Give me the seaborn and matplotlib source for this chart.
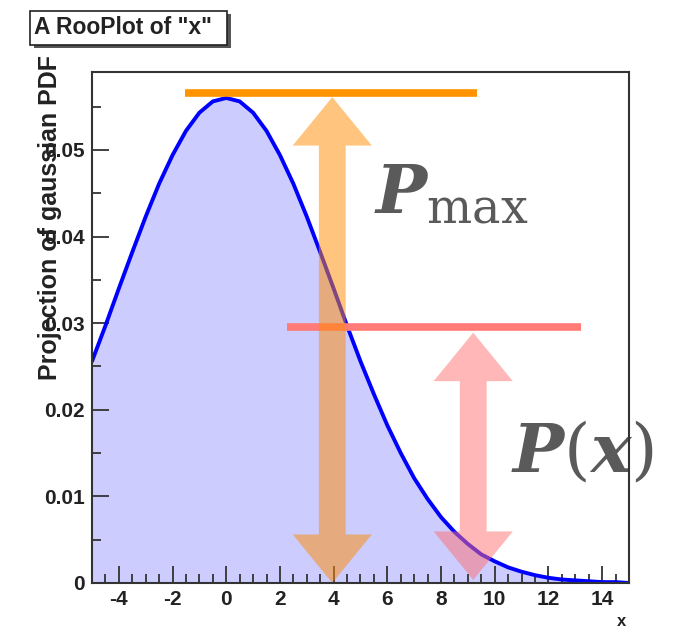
"""RooPlot-style gaussian projection with P_max and P(x) markers."""

import matplotlib

matplotlib.use("Agg")
import matplotlib.pyplot as plt
import numpy as np
import pandas as pd
import seaborn as sns
from matplotlib.patches import Polygon, Rectangle

# curve values (x step 0.5)
x_vals = [-5.0, -4.5, -4.0, -3.5, -3.0, -2.5, -2.0, -1.5, -1.0, -0.5, 0.0,
          0.5, 1.0, 1.5, 2.0, 2.5, 3.0, 3.5, 4.0, 4.5, 5.0,
          5.5, 6.0, 6.5, 7.0, 7.5, 8.0, 8.5, 9.0, 9.5, 10.0,
          10.5, 11.0, 11.5, 12.0, 12.5, 13.0, 13.5, 14.0, 14.5, 15.0]
pdf_vals = [0.0256, 0.0297, 0.0340, 0.0382, 0.0423, 0.0461, 0.0494, 0.0522, 0.0543, 0.0556, 0.0560,
            0.0556, 0.0543, 0.0522, 0.0494, 0.0461, 0.0423, 0.0382, 0.0340, 0.0297, 0.0256,
            0.0218, 0.0182, 0.0150, 0.0121, 0.0097, 0.0076, 0.0059, 0.0045, 0.0033, 0.0025,
            0.0018, 0.0013, 0.0009, 0.0006, 0.0004, 0.0003, 0.0002, 0.0001, 0.0001, 0.0000]

# horizontal marker lines: level, x start, x end
level_y = [0.0566, 0.0295]
level_x0 = [-1.55, 2.25]
level_x1 = [9.35, 13.2]
level_colors = ["#FF9400", "#FF7B78"]

# double arrows: centre x, bottom, top
arrow_x = [3.95, 9.2]
arrow_y0 = [0.0, 0.00035]
arrow_y1 = [0.0561, 0.0289]
arrow_colors = ["#FF8C00", "#FF7070"]

x_ticks = [-4, -2, 0, 2, 4, 6, 8, 10, 12, 14]
y_ticks = [0, 0.01, 0.02, 0.03, 0.04, 0.05]
y_tick_labels = ["0", "0.01", "0.02", "0.03", "0.04", "0.05"]

df = pd.DataFrame({"x": x_vals, "pdf": pdf_vals})

sns.set_style("ticks")
plt.rcParams["font.family"] = ["Liberation Sans", "DejaVu Sans"]
plt.rcParams["mathtext.fontset"] = "custom"
plt.rcParams["mathtext.rm"] = "DejaVu Serif"
plt.rcParams["mathtext.it"] = "DejaVu Serif:italic:bold"
plt.rcParams["axes.unicode_minus"] = False

fig = plt.figure(figsize=(6.84, 6.28), dpi=100)
ax = fig.add_axes([0.1345, 0.0717, 0.785, 0.8137])
ax.set_axisbelow(False)

ax.fill_between(df["x"], df["pdf"], 0, color="#CCCCFF", lw=0, zorder=1)
sns.lineplot(data=df, x="x", y="pdf", color="#0000FF", lw=2.8, ax=ax, zorder=3)

for y, x0, x1, c in zip(level_y, level_x0, level_x1, level_colors):
    ax.plot([x0, x1], [y, y], color=c, lw=5.5, solid_capstyle="butt", zorder=4, clip_on=False)

# arrow shape in data units
shaft_w = 1.0
head_w = 2.95
head_l = 0.0056
for cx, y0, y1, c in zip(arrow_x, arrow_y0, arrow_y1, arrow_colors):
    pts = [
        (cx, y0), (cx + head_w / 2, y0 + head_l), (cx + shaft_w / 2, y0 + head_l),
        (cx + shaft_w / 2, y1 - head_l), (cx + head_w / 2, y1 - head_l), (cx, y1),
        (cx - head_w / 2, y1 - head_l), (cx - shaft_w / 2, y1 - head_l),
        (cx - shaft_w / 2, y0 + head_l), (cx - head_w / 2, y0 + head_l),
    ]
    ax.add_patch(Polygon(pts, closed=True, facecolor=c, alpha=0.5, lw=0, zorder=5, clip_on=False))

# labels sit under the frame line, as in the original
ax.text(5.5, 0.0427, r"$P_{\mathrm{max}}$", fontsize=49, color="#5A5A5A",
        ha="left", va="baseline", zorder=2, clip_on=False)
ax.text(10.6, 0.0128, r"$P(x)$", fontsize=49, color="#5A5A5A",
        ha="left", va="baseline", zorder=2, clip_on=False)

ax.set_xlim(-5, 15)
ax.set_ylim(0, 0.059)
ax.set_xticks(x_ticks)
ax.set_xticks(np.arange(-5, 15.01, 0.5), minor=True)
ax.set_yticks(y_ticks)
ax.set_yticklabels(y_tick_labels)
ax.set_yticks(np.arange(0, 0.059, 0.005), minor=True)
ax.tick_params(which="both", direction="in", top=False, right=False, width=1.3, color="#333333",
               labelsize=15)
ax.tick_params(which="major", length=12, pad=5)
ax.tick_params(which="minor", length=6.5)
for lab in ax.get_xticklabels() + ax.get_yticklabels():
    lab.set_fontweight("bold")
    lab.set_color("#222222")
for sp in ax.spines.values():
    sp.set_visible(True)
    sp.set_color("#333333")
    sp.set_linewidth(1.5)
    sp.set_zorder(7)
ax.set_xlabel("")
ax.set_ylabel("")

fig.text(50 / 684, 1 - 218 / 628, "Projection of gaussian PDF", rotation=90, fontsize=18,
         fontweight="bold", color="#222222", ha="center", va="center")
fig.text(622 / 684, 1 - 621 / 628, "x", fontsize=12, fontweight="bold", color="#222222",
         ha="center", va="center")

# title box with shadow
fig.patches.append(Rectangle((34 / 684, 1 - 48 / 628), 197 / 684, 34 / 628, transform=fig.transFigure,
                             facecolor="#555555", edgecolor="none", zorder=1))
fig.patches.append(Rectangle((30 / 684, 1 - 45 / 628), 197 / 684, 34 / 628, transform=fig.transFigure,
                             facecolor="white", edgecolor="#222222", lw=1.2, zorder=2))
fig.text(123 / 684, 1 - 28 / 628, 'A RooPlot of "x"', fontsize=16.5, fontweight="bold", color="#222222",
         ha="center", va="center", zorder=3)

fig.savefig("out.png", dpi=100)
